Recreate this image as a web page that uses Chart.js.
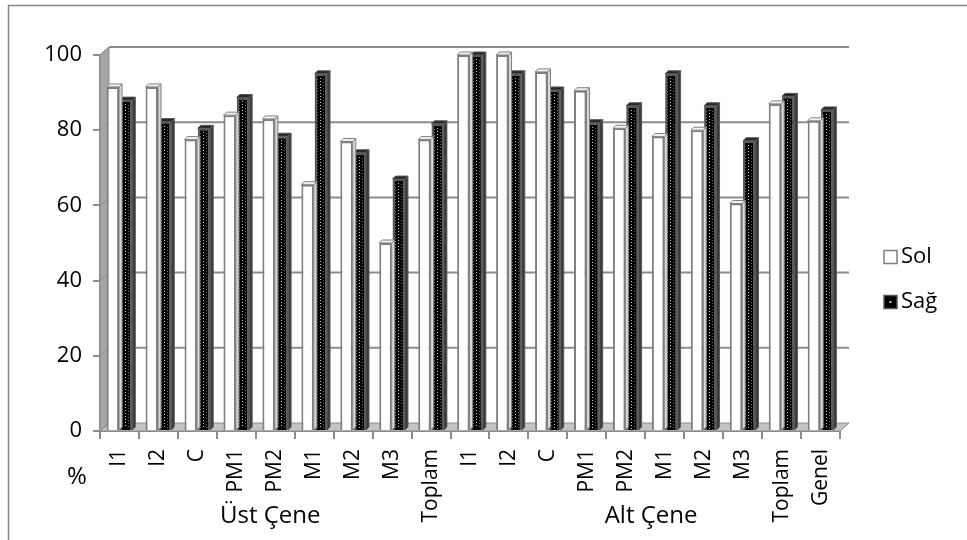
<!DOCTYPE html>
<html>
<head>
<meta charset="utf-8">
<script src="https://cdn.jsdelivr.net/npm/chart.js@4.4.1/dist/chart.umd.min.js"></script>
<style>
  html, body { margin: 0; padding: 0; background: #ffffff; }
  #wrap { width: 967px; height: 540px; }
</style>
</head>
<body>
<div id="wrap"><canvas id="c" width="967" height="540"></canvas></div>
<script>
// Tooth groups: upper jaw (Üst Çene), lower jaw (Alt Çene), overall
const categories = ['I1', 'I2', 'C', 'PM1', 'PM2', 'M1', 'M2', 'M3', 'Toplam',
                    'I1', 'I2', 'C', 'PM1', 'PM2', 'M1', 'M2', 'M3', 'Toplam', 'Genel'];
const solValues = [91.5, 91.5, 77.5, 84, 83, 65.5, 77, 50, 77.5,
                   100, 100, 95.5, 90.5, 80.5, 78.3, 80, 60.5, 87, 82.5];
const sagValues = [88, 82.3, 80.5, 88.7, 78.4, 95, 74, 67, 81.7,
                   100, 95, 90.7, 82, 86.5, 95, 86.5, 77.2, 89, 85.4];
const seriesNames = ['Sol', 'Sağ'];
const yTicks = [0, 20, 40, 60, 80, 100];
const groupLabels = ['Üst Çene', 'Alt Çene'];
const axisUnit = '%';

const FONT = '"Open Sans", "Noto Sans", sans-serif';
const DEPTH = { dx: 9, dy: 8 };   // back-wall offset of the pseudo-3D frame
const CAP = { dx: 3, dy: 3 };     // bar top / side bevel

// Back wall, left wall, floor and the horizontal grid drawn on the back wall
const frame3d = {
  id: 'frame3d',
  beforeDatasetsDraw(chart) {
    const { ctx, scales: { x, y } } = chart;
    const L = x.left, R = x.right;
    const y0 = y.getPixelForValue(0), yTop = y.getPixelForValue(100);
    ctx.save();
    // left wall
    ctx.beginPath();
    ctx.moveTo(L, y0); ctx.lineTo(L, yTop);
    ctx.lineTo(L + DEPTH.dx, yTop - DEPTH.dy); ctx.lineTo(L + DEPTH.dx, y0 - DEPTH.dy);
    ctx.closePath();
    ctx.fillStyle = '#a6a6a6'; ctx.fill();
    ctx.strokeStyle = '#8c8c8c'; ctx.lineWidth = 1; ctx.stroke();
    // floor
    ctx.beginPath();
    ctx.moveTo(L, y0); ctx.lineTo(R, y0);
    ctx.lineTo(R + DEPTH.dx, y0 - DEPTH.dy); ctx.lineTo(L + DEPTH.dx, y0 - DEPTH.dy);
    ctx.closePath();
    ctx.fillStyle = '#c4c4c4'; ctx.fill();
    ctx.strokeStyle = '#8c8c8c'; ctx.stroke();
    // grid on the back wall + diagonals across the left wall
    ctx.strokeStyle = '#8c8c8c'; ctx.lineWidth = 2;
    yTicks.forEach(v => {
      const py = y.getPixelForValue(v);
      if (v > 0) {
        ctx.beginPath();
        ctx.moveTo(L + DEPTH.dx, py - DEPTH.dy);
        ctx.lineTo(R + DEPTH.dx, py - DEPTH.dy);
        ctx.stroke();
      }
      ctx.beginPath();
      ctx.lineWidth = 1;
      ctx.moveTo(L, py); ctx.lineTo(L + DEPTH.dx, py - DEPTH.dy);
      ctx.stroke();
      ctx.lineWidth = 2;
    });
    ctx.restore();
  },
  afterDatasetsDraw(chart) {
    const { ctx } = chart;
    ctx.save();
    [1, 0].forEach(di => {
      const meta = chart.getDatasetMeta(di);
      const dark = di === 1;
      meta.data.forEach(bar => {
        const { x, y, base, width } = bar.getProps(['x', 'y', 'base', 'width'], true);
        const l = x - width / 2, r = x + width / 2;
        // side face
        ctx.beginPath();
        ctx.moveTo(r, y); ctx.lineTo(r + CAP.dx, y - CAP.dy);
        ctx.lineTo(r + CAP.dx, base - CAP.dy); ctx.lineTo(r, base);
        ctx.closePath();
        ctx.fillStyle = dark ? '#3a3a3a' : '#d9d9d9';
        ctx.fill();
        ctx.strokeStyle = dark ? '#595959' : '#7f7f7f'; ctx.lineWidth = 1; ctx.stroke();
        // top face
        ctx.beginPath();
        ctx.moveTo(l, y); ctx.lineTo(r, y);
        ctx.lineTo(r + CAP.dx, y - CAP.dy); ctx.lineTo(l + CAP.dx, y - CAP.dy);
        ctx.closePath();
        ctx.fillStyle = dark ? '#262626' : '#f2f2f2';
        ctx.fill(); ctx.stroke();
        // dotted texture on the dark series
        if (dark) {
          const cx = Math.round(x);
          for (let py = y + 4; py < base - 2; py += 3) {
            ctx.fillStyle = '#d0d0d0';
            ctx.fillRect(cx - 1, Math.round(py), 1, 1);
            ctx.fillStyle = '#666666';
            ctx.fillRect(cx - 4, Math.round(py) + 1, 1, 1);
            ctx.fillRect(cx + 2, Math.round(py) + 1, 1, 1);
          }
        }
      });
    });
    ctx.restore();
  },
  afterDraw(chart) {
    const { ctx, scales: { x } } = chart;
    ctx.save();
    // outer frame
    ctx.strokeStyle = '#868686'; ctx.lineWidth = 1.5;
    ctx.strokeRect(8.5, 5.5, 1000, 600);
    // unit label and jaw group labels
    ctx.fillStyle = '#000';
    ctx.font = '24px ' + FONT;
    ctx.textAlign = 'center'; ctx.textBaseline = 'middle';
    ctx.fillText(axisUnit, 77, 477);
    ctx.fillText(groupLabels[0], x.getPixelForValue(3.87), 516);
    ctx.fillText(groupLabels[1], x.getPixelForValue(13.65), 516);
    // legend
    ctx.font = '22px ' + FONT;
    const items = chart.data.datasets;
    items.forEach((ds, i) => {
      const cy = 257 + i * 45;
      const bx = 884, s = 13;
      ctx.fillStyle = ds.backgroundColor;
      ctx.fillRect(bx, cy - s / 2, s, s);
      ctx.strokeStyle = ds.borderColor; ctx.lineWidth = 1.5;
      ctx.strokeRect(bx, cy - s / 2, s, s);
      if (i === 1) {
        ctx.fillStyle = '#c8c8c8';
        ctx.fillRect(bx + 5.5, cy - 1, 2, 2);
      }
      ctx.fillStyle = '#000';
      ctx.textAlign = 'left';
      ctx.fillText(ds.label, 901, cy);
    });
    ctx.restore();
  }
};

new Chart(document.getElementById('c'), {
  type: 'bar',
  data: {
    labels: categories,
    datasets: [
      { label: seriesNames[0], data: solValues, backgroundColor: '#ffffff',
        borderColor: '#7f7f7f', borderWidth: 2 },
      { label: seriesNames[1], data: sagValues, backgroundColor: '#000000',
        borderColor: '#595959', borderWidth: 2 }
    ]
  },
  options: {
    responsive: false,
    animation: false,
    layout: { padding: { top: 55, right: 127, left: 0, bottom: 0 } },
    datasets: { bar: { barPercentage: 0.94, categoryPercentage: 0.68 } },
    plugins: { legend: { display: false }, tooltip: { enabled: false } },
    scales: {
      x: {
        afterFit(s) { s.height = 109; },
        grid: { drawOnChartArea: false, drawTicks: true, tickLength: 8,
                color: '#8c8c8c', lineWidth: 2, offset: true },
        border: { display: true, color: '#8c8c8c', width: 2 },
        ticks: { font: { family: FONT, size: 21 }, color: '#000',
                 minRotation: 90, maxRotation: 90, autoSkip: false, padding: 10 }
      },
      y: {
        min: 0, max: 100,
        afterFit(s) { s.width = 100; },
        afterBuildTicks(s) { s.ticks = yTicks.map(v => ({ value: v })); },
        grid: { drawOnChartArea: false, drawTicks: true, tickLength: 7,
                color: '#8c8c8c', lineWidth: 2 },
        border: { display: true, color: '#8c8c8c', width: 2 },
        ticks: { font: { family: FONT, size: 22 }, color: '#000', padding: 11 }
      }
    }
  },
  plugins: [frame3d]
});
</script>
</body>
</html>
